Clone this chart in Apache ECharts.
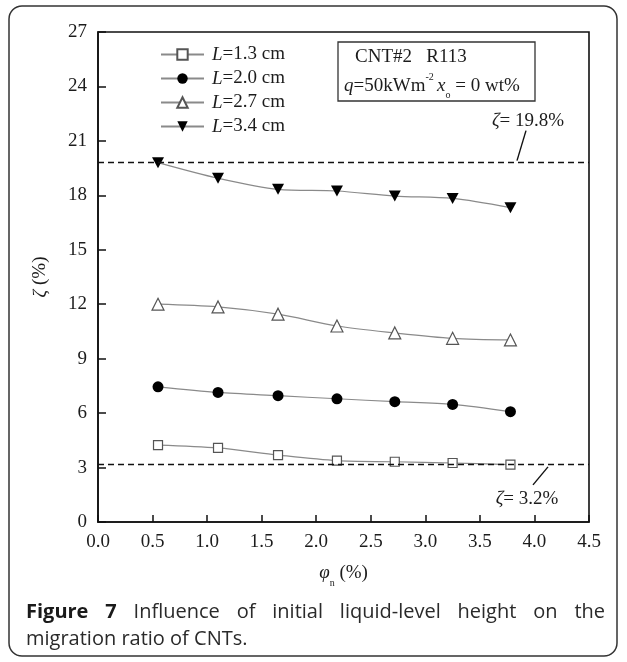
<!DOCTYPE html>
<html><head><meta charset="utf-8">
<script src="https://cdn.jsdelivr.net/npm/echarts@6/dist/echarts.min.js"></script>
<style>html,body{margin:0;padding:0;background:#fff}#c{width:627px;height:662px}</style>
</head><body><div id="c"></div>
<script>
// ---- data ----
const phi  = [0.55, 1.10, 1.65, 2.19, 2.72, 3.25, 3.78];
const L13  = [4.24, 4.08, 3.69, 3.38, 3.32, 3.25, 3.16];
const L20  = [7.45, 7.14, 6.96, 6.79, 6.63, 6.48, 6.08];
const L27  = [12.0, 11.85, 11.45, 10.8, 10.42, 10.12, 10.03];
const L34  = [19.8, 18.94, 18.33, 18.24, 17.96, 17.83, 17.32];
const seriesNames = ['L=1.3 cm', 'L=2.0 cm', 'L=2.7 cm', 'L=3.4 cm'];
const refLines = [19.8, 3.2];
const refLabels = ['19.8%', '3.2%'];
const captionLine1 = ['Figure', '7', 'Influence', 'of', 'initial', 'liquid-level', 'height', 'on', 'the'];
const captionLine2 = 'migration ratio of CNTs.';

const SERIF = '"Liberation Serif", "DejaVu Serif", serif';
const INK = '#1c1c1c';
const FS = 19;
const chart = echarts.init(document.getElementById('c'), null, {renderer: 'canvas'});

const pairs = v => phi.map((x, i) => [x, v[i]]);
const lineStyle = {color: '#8a8a8a', width: 1.2};
const invTri = 'path://M0,0 L10,0 L5,9 Z';

const series = [
  {name: seriesNames[0], data: pairs(L13), symbol: 'rect', symbolSize: 9,
   itemStyle: {color: '#fff', borderColor: '#555', borderWidth: 1.2}},
  {name: seriesNames[1], data: pairs(L20), symbol: 'circle', symbolSize: 11,
   itemStyle: {color: '#000', borderColor: '#000', borderWidth: 0}},
  {name: seriesNames[2], data: pairs(L27), symbol: 'triangle', symbolSize: 12,
   itemStyle: {color: '#fff', borderColor: '#555', borderWidth: 1.2}},
  {name: seriesNames[3], data: pairs(L34), symbol: invTri, symbolSize: [12, 11],
   itemStyle: {color: '#000', borderColor: '#000', borderWidth: 0}}
].map(s => Object.assign({type: 'line', smooth: 0.3, lineStyle, showSymbol: true,
  emphasis: {disabled: true}, animation: false, z: 3}, s));

series[0].markLine = {
  silent: true, symbol: 'none', animation: false,
  lineStyle: {color: '#111', width: 1.3, type: [6, 4]},
  label: {show: false},
  data: refLines.map(v => ({yAxis: v}))
};

const axisText = {fontFamily: SERIF, fontSize: FS, color: INK};

chart.setOption({
  backgroundColor: '#fff',
  animation: false,
  grid: {left: 98, right: 38, top: 32, bottom: 140, show: true,
         borderColor: '#111', borderWidth: 1.6, backgroundColor: 'transparent'},
  legend: {
    orient: 'vertical', left: 155, top: 40, itemWidth: 43, itemHeight: 13, itemGap: 5,
    data: seriesNames,
    formatter: n => '{i|' + n.slice(0, 1) + '}' + n.slice(1),
    textStyle: {fontFamily: SERIF, fontSize: FS, color: INK, padding: [0, 0, 0, 3],
      rich: {i: {fontFamily: SERIF, fontSize: FS, fontStyle: 'italic', color: INK}}},
    selectedMode: false
  },
  xAxis: {
    type: 'value', min: 0, max: 4.5, interval: 0.5,
    name: '{i|φ}{sub|n} (%)', nameLocation: 'middle', nameGap: 36,
    nameTextStyle: Object.assign({}, axisText, {rich: {
      i: {fontFamily: SERIF, fontSize: FS, fontStyle: 'italic', color: INK},
      sub: {fontFamily: SERIF, fontSize: 10, color: INK, verticalAlign: 'bottom', lineHeight: 30}}}),
    axisLine: {show: true, lineStyle: {color: '#111', width: 1.6}},
    axisTick: {show: true, inside: true, length: 7, lineStyle: {color: '#111', width: 1.5}},
    axisLabel: Object.assign({}, axisText, {margin: 11, formatter: v => v.toFixed(1)}),
    splitLine: {show: false}
  },
  yAxis: {
    type: 'value', min: 0, max: 27, interval: 3,
    name: '{i|ζ} (%)', nameLocation: 'middle', nameGap: 48, nameRotate: 90,
    nameTextStyle: Object.assign({}, axisText, {rich: {
      i: {fontFamily: SERIF, fontSize: FS, fontStyle: 'italic', color: INK}}}),
    axisLine: {show: true, lineStyle: {color: '#111', width: 1.6}},
    axisTick: {show: true, inside: true, length: 8, lineStyle: {color: '#111', width: 1.5}},
    axisLabel: Object.assign({}, axisText, {margin: 11}),
    splitLine: {show: false}
  },
  series
});

// ---- annotations (anchored to data coordinates) ----
const px = (x, y) => chart.convertToPixel({gridIndex: 0}, [x, y]);
const yHi = px(0, refLines[0])[1];
const yLo = px(0, refLines[1])[1];
const richZ = {
  i: {fontFamily: SERIF, fontSize: FS, fontStyle: 'italic', fill: INK},
  n: {fontFamily: SERIF, fontSize: FS, fill: INK}
};

// caption, justified first line
const cnv = document.createElement('canvas').getContext('2d');
const CAP = '"Open Sans", "Noto Sans", sans-serif';
const capSize = 20;
const capLeft = 26, capRight = 605, cap1Y = 612, cap2Y = 639;
const fontFor = b => (b ? 'bold ' : '') + capSize + 'px ' + CAP;
const widths = captionLine1.map((w, i) => { cnv.font = fontFor(i < 2); return cnv.measureText(w).width; });
const totalW = widths.reduce((a, b) => a + b, 0);
const gap = (capRight - capLeft - totalW) / (captionLine1.length - 1);
let cx = capLeft;
const capEls = captionLine1.map((w, i) => {
  const el = {type: 'text', x: cx, y: cap1Y, style: {text: w, font: fontFor(i < 2),
    fill: i < 2 ? '#1a1a1a' : '#2a2a2a', verticalAlign: 'middle'}};
  cx += widths[i] + gap;
  return el;
});
capEls.push({type: 'text', x: capLeft, y: cap2Y, style: {text: captionLine2, font: fontFor(false),
  fill: '#2a2a2a', verticalAlign: 'middle'}});

chart.setOption({
  graphic: [
    {type: 'rect', shape: {x: 9, y: 6, width: 608, height: 650, r: 13},
     style: {fill: null, stroke: '#333', lineWidth: 1.5}, silent: true, z: -1},
    {type: 'rect', shape: {x: 338, y: 42, width: 197, height: 59},
     style: {fill: '#fff', stroke: '#333', lineWidth: 1.3}},
    {type: 'text', x: 355, y: 57, style: {text: 'CNT#2   R113', font: FS + 'px ' + SERIF, fill: INK, verticalAlign: 'middle'}},
    {type: 'text', x: 344, y: 86, style: {
      text: '{i|q}{n|=50kWm}{sup|-2} {i|x}{sub|o}{n| = 0 wt%}', verticalAlign: 'middle',
      rich: {
        i: {fontFamily: SERIF, fontSize: FS, fontStyle: 'italic', fill: INK, lineHeight: 28, verticalAlign: 'middle'},
        n: {fontFamily: SERIF, fontSize: FS, fill: INK, lineHeight: 28, verticalAlign: 'middle'},
        sup: {fontFamily: SERIF, fontSize: 10, fill: INK, lineHeight: 28, verticalAlign: 'top'},
        sub: {fontFamily: SERIF, fontSize: 10, fill: INK, lineHeight: 28, verticalAlign: 'bottom'}
      }}},
    {type: 'text', x: 528, y: yHi - 42, style: {text: '{i|ζ}{n|= ' + refLabels[0] + '}',
      align: 'center', verticalAlign: 'middle', rich: richZ}},
    {type: 'line', shape: {x1: 526, y1: yHi - 32, x2: 517, y2: yHi - 2},
     style: {stroke: '#111', lineWidth: 1.4}},
    {type: 'text', x: 527, y: yLo + 35, style: {text: '{i|ζ}{n|= ' + refLabels[1] + '}',
      align: 'center', verticalAlign: 'middle', rich: richZ}},
    {type: 'line', shape: {x1: 533, y1: yLo + 21, x2: 548, y2: yLo + 3},
     style: {stroke: '#111', lineWidth: 1.4}}
  ].concat(capEls)
});
</script>
</body></html>
